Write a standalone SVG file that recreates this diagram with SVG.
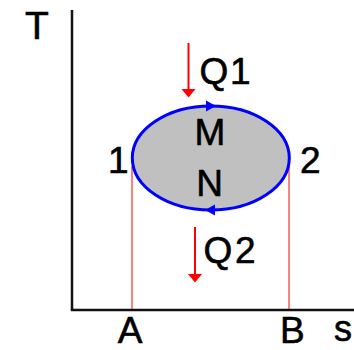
<svg xmlns="http://www.w3.org/2000/svg" width="354" height="350" viewBox="0 0 354 350">
  <style>
    .lbl { font-family: "Liberation Sans", Arial, sans-serif; font-size: 37px; fill: #000; stroke: #000; stroke-width: 0.6; }
    .axis { stroke: #111; stroke-width: 2.5; fill: none; }
    .guide { stroke: #ff0000; stroke-width: 1; fill: none; }
    .heat { stroke: #ff0000; stroke-width: 2; fill: none; }
    .redhead { fill: #ff0000; stroke: none; }
    .bluehead { fill: #0000ff; stroke: none; }
  </style>
  <rect width="354" height="350" fill="#ffffff"/>

  <g id="axes">
    <line class="axis" x1="72" y1="10" x2="72" y2="310"/>
    <line class="axis" x1="70.8" y1="310" x2="354" y2="310"/>
    <text class="lbl" x="25" y="39" style="font-size:39px">T</text>
    <text class="lbl" x="334" y="341" style="font-size:36px">s</text>
  </g>

  <g id="connectors">
    <line class="guide" x1="132" y1="166" x2="132" y2="309"/>
    <line class="guide" x1="289" y1="166" x2="289" y2="309"/>
    <line class="heat" x1="188.5" y1="43" x2="188.5" y2="90"/>
    <polygon class="redhead" points="181.5,89 195.5,89 188.5,97.5"/>
    <line class="heat" x1="195" y1="227" x2="195" y2="275"/>
    <polygon class="redhead" points="188,274 202,274 195,282.5"/>
  </g>

  <g id="cycle">
    <ellipse cx="210.8" cy="158" rx="78.5" ry="52" fill="#c0c0c0" stroke="#0000ff" stroke-width="3"/>
    <polygon class="bluehead" points="206,100.5 216,106 206,111.5"/>
    <polygon class="bluehead" points="205,210 215,204.5 215,215.5"/>
  </g>

  <g id="node-M"><text class="lbl" x="210" y="145" text-anchor="middle">M</text></g>
  <g id="node-N"><text class="lbl" x="209.7" y="196" text-anchor="middle">N</text></g>
  <g id="node-1"><text class="lbl" x="108" y="173">1</text></g>
  <g id="node-2"><text class="lbl" x="300" y="173">2</text></g>
  <g id="node-A"><text class="lbl" x="130" y="343.3" text-anchor="middle">A</text></g>
  <g id="node-B"><text class="lbl" x="280" y="343.3">B</text></g>
  <g id="node-Q1"><text class="lbl" x="199.5 230" y="84">Q1</text></g>
  <g id="node-Q2"><text class="lbl" x="203.5 235" y="263.3">Q2</text></g>
</svg>
